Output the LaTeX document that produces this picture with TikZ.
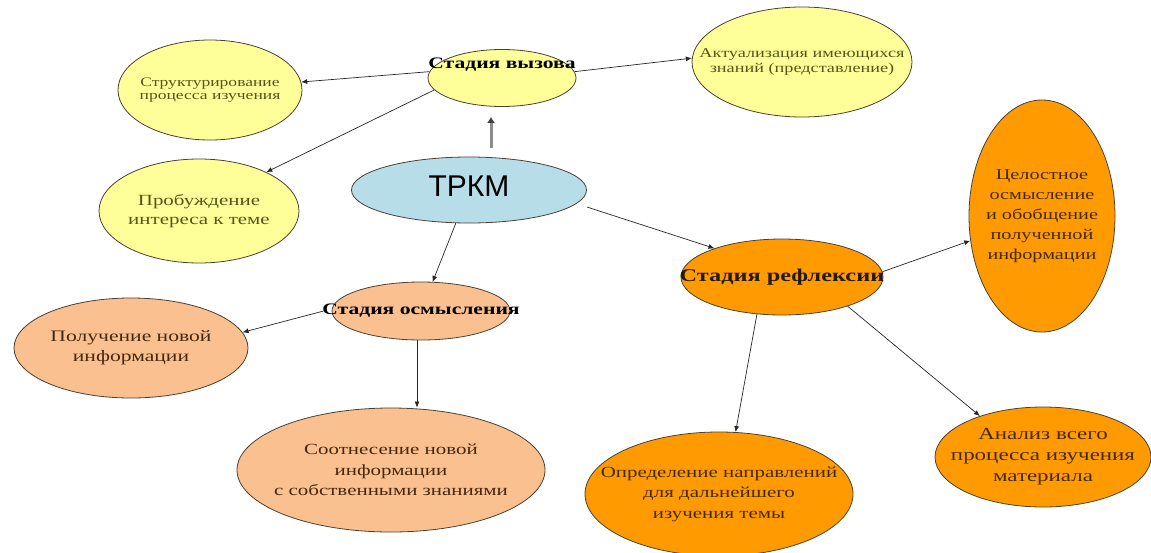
\documentclass[tikz,border=0pt]{standalone}
\usepackage{fontspec}
\setmainfont[FakeStretch=1.35]{Liberation Serif}
\newfontfamily\headfont{Liberation Sans}
\usetikzlibrary{shapes.geometric,arrows.meta}

\definecolor{yelfill}{RGB}{255,255,153}
\definecolor{bluefill}{RGB}{183,221,232}
\definecolor{peachfill}{RGB}{250,192,144}
\definecolor{orangefill}{RGB}{255,155,0}
\definecolor{olivetext}{RGB}{85,85,25}
\definecolor{browntext}{RGB}{70,40,15}
\definecolor{edgecol}{RGB}{75,65,50}

\begin{document}
\begin{tikzpicture}[
        x=1pt, y=-1pt,
        bubble/.style={ellipse, draw=edgecol, line width=0.8pt, inner sep=0pt},
        yel/.style={bubble, fill=yelfill},
        peach/.style={bubble, fill=peachfill},
        orng/.style={bubble, fill=orangefill},
        lbl/.style={align=center, inner sep=0pt},
        arrow/.style={->, >={Latex[length=6pt,width=5pt]}, line width=0.7pt, draw=black!85},
        uparrow/.style={-{Latex[length=6pt,width=8pt,color=black!75]}, line width=3pt, draw=black!45}
    ]
    \useasboundingbox (0,0) rectangle (1151,552);

    % centre and the three stages
    \node[bubble, fill=bluefill, minimum width=235pt, minimum height=66pt,
        label={[lbl, font=\headfont\fontsize{30}{32}\selectfont, yshift=4pt]center:ТРКМ}] (trkm) at (469,190) {};
    \node[yel, minimum width=148pt, minimum height=57pt,
        label={[lbl, font=\bfseries\fontsize{16}{18}\selectfont, yshift=13pt]center:Стадия вызова}] (call) at (502,78) {};
    \node[peach, minimum width=178pt, minimum height=58pt,
        label={[lbl, font=\bfseries\fontsize{16}{18}\selectfont]center:Стадия осмысления}] (osm) at (421,311) {};
    \node[orng, minimum width=202pt, minimum height=76pt,
        label={[lbl, font=\bfseries\fontsize{18}{20}\selectfont, text=black!80!brown]center:Стадия рефлексии}] (refl) at (782,277) {};

    % call stage
    \node[yel, minimum width=184pt, minimum height=100pt,
        label={[lbl, font=\fontsize{13}{13.5}\selectfont, text=olivetext]center:{Структурирование\\процесса изучения}}] (struct) at (210,90) {};
    \node[yel, minimum width=220pt, minimum height=110pt,
        label={[lbl, font=\fontsize{13.5}{15}\selectfont, text=olivetext]center:{Актуализация имеющихся\\знаний (представление)}}] (aktual) at (802,62) {};
    \node[yel, minimum width=200pt, minimum height=104pt,
        label={[lbl, font=\fontsize{15.5}{19}\selectfont, text=olivetext]center:{Пробуждение\\интереса к теме}}] (probud) at (199,211) {};

    % comprehension stage
    \node[peach, minimum width=234pt, minimum height=100pt,
        label={[lbl, font=\fontsize{16}{20}\selectfont, text=browntext]center:{Получение новой\\информации}}] (polu) at (131,348) {};
    \node[peach, minimum width=308pt, minimum height=124pt,
        label={[lbl, font=\fontsize{15.5}{20.5}\selectfont, text=browntext]center:{Соотнесение новой\\информации\\с собственными знаниями}}] (sootn) at (391,470) {};

    % reflection stage
    \node[orng, minimum width=146pt, minimum height=232pt,
        label={[lbl, font=\fontsize{15}{20}\selectfont, text=browntext]center:{Целостное\\осмысление\\и обобщение\\полученной\\информации}}] (cel) at (1042,216) {};
    \node[orng, minimum width=268pt, minimum height=124pt,
        label={[lbl, font=\fontsize{15.5}{20.5}\selectfont, text=browntext]center:{Определение направлений\\для дальнейшего\\изучения темы}}] (opr) at (719,494) {};
    \node[orng, minimum width=216pt, minimum height=100pt,
        label={[lbl, font=\fontsize{17}{21}\selectfont, text=browntext]center:{Анализ всего\\процесса изучения\\материала}}] (anal) at (1043,457) {};

    \draw[uparrow] ([xshift=22pt,yshift=9pt]trkm.north) -- ([xshift=-11pt,yshift=-10pt]call.south);
    \draw[arrow] (call.175) -- (struct.5);
    \draw[arrow] (call.5) -- (aktual.178);
    \draw[arrow] (call.190) -- (probud.30);

    \draw[arrow] (trkm) -- (osm);
    \draw[arrow] ([xshift=-8pt]osm.west) -- (polu.8);
    \draw[arrow] ([xshift=-4pt]osm.south) -- ([xshift=-4pt]osm.south |- sootn.north);

    \draw[arrow] ([yshift=-17pt]trkm.east) -- (refl.157);
    \draw[arrow] (refl.3) -- (cel.199);
    \draw[arrow] (refl.236) -- (opr.75);
    \draw[arrow] (refl.336) -- (anal.147);

\end{tikzpicture}
\end{document}
